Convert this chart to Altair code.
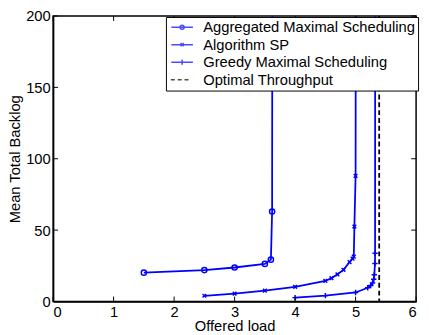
import altair as alt
import pandas as pd

# ---- data ----
series_names = ["Aggregated Maximal Scheduling", "Algorithm SP",
                "Greedy Maximal Scheduling", "Optimal Throughput"]

agg_x = [1.5, 2.5, 3.0, 3.5, 3.6, 3.62, 3.625]
agg_y = [20.2, 22.0, 23.8, 26.3, 29.3, 63.0, 300.0]

sp_x = [2.5, 3.0, 3.5, 4.0, 4.5, 4.6, 4.7, 4.8, 4.9, 4.95, 4.97, 4.98, 5.0, 5.005]
sp_y = [4.0, 5.5, 7.6, 10.3, 14.4, 16.3, 19.0, 22.2, 27.6, 30.0, 31.4, 52.5, 88.0, 300.0]

gr_x = [4.0, 4.5, 5.0, 5.2, 5.25, 5.28, 5.3, 5.31, 5.32, 5.322, 5.325]
gr_y = [2.7, 4.1, 6.3, 9.6, 11.2, 13.0, 15.5, 18.7, 26.6, 33.8, 300.0]

opt_x = [5.39]

x_ticks = [0, 1, 2, 3, 4, 5, 6]
y_ticks = [0, 50, 100, 150, 200]

rows = []
for name, xs_, ys_ in [(series_names[0], agg_x, agg_y),
                       (series_names[1], sp_x, sp_y),
                       (series_names[2], gr_x, gr_y)]:
    for i, (a, b) in enumerate(zip(xs_, ys_)):
        rows.append({"series": name, "x": a, "y": b, "order": i})
df = pd.DataFrame(rows)

W, H = 370, 291
BLUE = "#0000ff"
FONT = "Liberation Sans"

xs = alt.Scale(domain=[0, 6], nice=False, zero=False)
ys = alt.Scale(domain=[0, 200], nice=False, zero=False)

axis_style = dict(ticks=False, grid=False, format="d", domainColor="black", domainWidth=1.5,
                  labelFont=FONT, labelFontSize=15, labelColor="black",
                  titleFont=FONT, titleFontSize=15, titleFontWeight="normal",
                  titleColor="black")
x_axis = alt.Axis(values=x_ticks, title="Offered load", labelPadding=3, titlePadding=0,
                  **axis_style)
y_axis = alt.Axis(values=y_ticks, title="Mean Total Backlog", labelPadding=3,
                  titlePadding=3, **axis_style)
x_enc = alt.X("x:Q", scale=xs, axis=x_axis, title="Offered load")
y_enc = alt.Y("y:Q", scale=ys, axis=y_axis, title="Mean Total Backlog")

base = alt.Chart(df)

lines = base.mark_line(color=BLUE, strokeWidth=1.8, clip=True).encode(
    x=x_enc, y=y_enc, detail="series:N", order="order:Q")

marker_shapes = ["circle",
                 "M-1,-1L1,1M-1,1L1,-1",
                 "M-1,0L1,0M0,-1L0,1"]
marker_sizes = [28, 14, 30]

pts = []
for name, shp, sz in zip(series_names[:3], marker_shapes, marker_sizes):
    pts.append(base.transform_filter(alt.datum.series == name).mark_point(
        filled=False, color=BLUE, strokeWidth=1.5, size=sz, clip=True, opacity=1).encode(
        x=x_enc, y=y_enc, shape=alt.value(shp)))

legend_paths = [
    "M-2.2,0L2.2,0M0.4,0A0.4,0.4,0,1,1,-0.4,0A0.4,0.4,0,1,1,0.4,0",
    "M-2.2,0L2.2,0M-0.32,-0.32L0.32,0.32M-0.32,0.32L0.32,-0.32",
    "M-2.2,0L2.2,0M0,-0.5L0,0.5",
    "M-2.3,0L-1.5,0M-0.9,0L-0.1,0M0.5,0L1.3,0",
]

leg = alt.Legend(orient="none", legendX=115, legendY=1, title=None,
                 fillColor="white", strokeColor="black", padding=3,
                 labelFontSize=15, labelFont=FONT, labelColor="black",
                 symbolSize=100, symbolStrokeWidth=1.6, symbolFillColor="transparent",
                 rowPadding=1.8, labelOffset=14, symbolOffset=6, labelLimit=400)

legend_layer = base.transform_filter("false").mark_point(filled=False, strokeWidth=1.5).encode(
    x=x_enc, y=y_enc,
    color=alt.Color("series:N", scale=alt.Scale(domain=series_names,
                                                range=[BLUE, BLUE, BLUE, "black"]),
                    legend=leg, sort=series_names),
    shape=alt.Shape("series:N", scale=alt.Scale(domain=series_names, range=legend_paths),
                    legend=leg, sort=series_names))

opt = alt.Chart(pd.DataFrame({"x": opt_x})).mark_rule(
    color="black", strokeDash=[5, 3], strokeWidth=1.8).encode(x=x_enc)

xt = alt.Chart(pd.DataFrame({"x": x_ticks}))
yt = alt.Chart(pd.DataFrame({"y": y_ticks}))
tick_x_bottom = xt.mark_rule(color="black", strokeWidth=1).encode(
    x=x_enc, y=alt.value(H), y2=alt.value(H - 5))
tick_x_top = xt.mark_rule(color="black", strokeWidth=1).encode(
    x=x_enc, y=alt.value(0), y2=alt.value(5))
tick_y_left = yt.mark_rule(color="black", strokeWidth=1).encode(
    y=y_enc, x=alt.value(0), x2=alt.value(5))
tick_y_right = yt.mark_rule(color="black", strokeWidth=1).encode(
    y=y_enc, x=alt.value(W), x2=alt.value(W - 5))

chart = alt.layer(lines, *pts, opt, tick_x_bottom, tick_x_top, tick_y_left, tick_y_right,
                  legend_layer).properties(
    width=W, height=H,
    background="white",
    autosize=alt.AutoSizeParams(type="none"),
    padding={"left": 46, "top": 5, "right": 5, "bottom": 30},
).configure_view(stroke="black", strokeWidth=1.5)

chart.save("out.html", embed_options={"renderer": "svg", "actions": False})
